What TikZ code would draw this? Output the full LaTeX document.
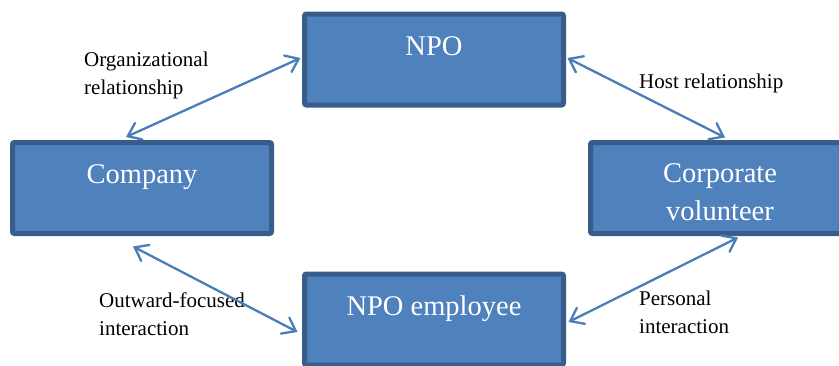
\documentclass[tikz,border=0pt]{standalone}
\usepackage{fontspec}
\setmainfont{Liberation Serif}
\usetikzlibrary{arrows.meta}
\definecolor{boxfill}{HTML}{4F81BD}
\definecolor{boxline}{HTML}{385D8A}
\definecolor{arrowc}{HTML}{4A7EBB}
\begin{document}
\begin{tikzpicture}[x=1pt,y=-1pt,
  box/.style={draw=boxline, fill=boxfill, line width=5pt, rounded corners=2pt,
    minimum width=259pt, minimum height=91pt, inner sep=0pt},
  boxtext/.style={text=white, font=\fontsize{28.5}{38}\selectfont, anchor=base, align=center, inner sep=0pt},
  lbl/.style={font=\fontsize{21}{28}\selectfont, anchor=base west, align=left, inner sep=0pt},
  link/.style={draw=arrowc, line width=2.3pt, line cap=round,
    {Straight Barb[length=12pt,width=18pt,line cap=round]}-{Straight Barb[length=12pt,width=18pt,line cap=round]}}]
\useasboundingbox (0,0) rectangle (839,365);

\node[box] (npo) at (434,59.5) {};
\node[box] (company) at (142,188) {};
\node[box] (corp) at (720,188) {};
\node[box] (emp) at (434,319.5) {};

\node[boxtext] (npot) at (434,55) {NPO};
\node[boxtext] (companyt) at (142,183) {Company};
\node[boxtext] (corpt) at (720,220) {Corporate\\volunteer};
\node[boxtext] (empt) at (434,315) {NPO employee};

\node[lbl] (l1) at (84,94) {Organizational\\relationship};
\node[lbl] (l2) at (639,88) {Host relationship};
\node[lbl] (l3) at (99,335) {Outward-focused\\interaction};
\node[lbl] (l4) at (639,333) {Personal\\interaction};

\draw[link] ([xshift=-16pt,yshift=3pt]company.north) -- ([xshift=-1.5pt,yshift=1.5pt]npo.west);
\draw[link] ([xshift=1.5pt,yshift=1.5pt]npo.east) -- ([xshift=5pt,yshift=2.5pt]corp.north);
\draw[link] ([xshift=-9pt,yshift=-10.5pt]company.south) -- ([xshift=-4.5pt,yshift=-12.5pt]emp.west);
\draw[link] ([xshift=18pt,yshift=-1.5pt]corp.south) -- ([xshift=2.5pt,yshift=-2.5pt]emp.east);
\end{tikzpicture}
\end{document}
